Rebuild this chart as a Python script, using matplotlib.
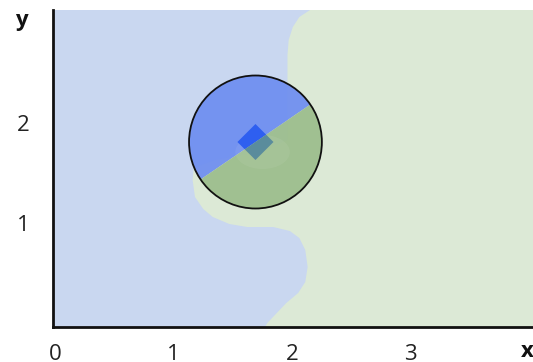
import numpy as np
import matplotlib.pyplot as plt
from matplotlib.patches import Ellipse, Polygon

# boundary of the green region (data units), from top edge down to the x axis
bound_x = [2.15, 2.06, 2.005, 1.97, 1.96, 1.96, 1.73, 1.35, 1.17, 1.16, 1.18, 1.25,
           1.33, 1.47, 1.62, 1.84, 1.98, 2.06, 2.11, 2.13, 2.11, 2.05, 1.95, 1.87, 1.79, 1.77]
bound_y = [3.13, 3.06, 2.96, 2.83, 2.68, 1.83, 1.71, 1.63, 1.55, 1.43, 1.26, 1.14,
           1.06, 0.99, 0.96, 0.96, 0.92, 0.85, 0.73, 0.56, 0.41, 0.30, 0.20, 0.10, 0.0, -0.04]

# circle and diamond
circ_center = (1.69, 1.81)
circ_w, circ_h = 1.12, 1.33
diam_half_x, diam_half_y = 0.152, 0.18
split_slope = 0.81

xticks = [0, 1, 2, 3]
yticks = [1, 2]
xlim = (-0.017, 4.03)
ylim = (-0.04, 3.13)

c_blue_bg = '#c9d7f0'
c_green_bg = '#dce9d6'
c_blue = '#6e8ef0'
c_green = '#9dbe8e'
c_dblue = '#2e5ff0'
c_teal = '#5a8c9c'

fig = plt.figure(figsize=(5.33, 3.62), dpi=100)
ax = fig.add_axes([53/533, (362-327)/362, 480/533, 317/362])
ax.set_xlim(*xlim)
ax.set_ylim(*ylim)

ax.set_facecolor(c_blue_bg)
gx = bound_x + [xlim[1], xlim[1]]
gy = bound_y + [ylim[0], ylim[1]]
ax.add_patch(Polygon(np.column_stack([gx, gy]), closed=True, facecolor=c_green_bg,
                     edgecolor='none', zorder=1))

cx, cy = circ_center
far = 5
upper = [(cx - far, cy - far*split_slope), (cx + far, cy + far*split_slope),
         (cx + far, cy + far), (cx - far, cy + far)]
lower = [(cx - far, cy - far*split_slope), (cx + far, cy + far*split_slope),
         (cx + far, cy - far*3), (cx - far, cy - far*3)]

circ_clip = Ellipse(circ_center, circ_w, circ_h, facecolor='none', edgecolor='none')
ax.add_patch(circ_clip)
p1 = ax.add_patch(Polygon(upper, facecolor=c_blue, edgecolor='none', alpha=0.93, zorder=2))
p2 = ax.add_patch(Polygon(lower, facecolor=c_green, edgecolor='none', alpha=0.95, zorder=2))
p1.set_clip_path(circ_clip)
p2.set_clip_path(circ_clip)

halo = ax.add_patch(Ellipse((1.75, 1.71), 0.46, 0.34, facecolor='white', edgecolor='none',
                            alpha=0.06, zorder=3))
halo.set_clip_path(circ_clip)

dm = [(cx, cy + diam_half_y), (cx + diam_half_x, cy), (cx, cy - diam_half_y), (cx - diam_half_x, cy)]
diam_clip = Polygon(dm, facecolor='none', edgecolor='none')
ax.add_patch(diam_clip)
d1 = ax.add_patch(Polygon(upper, facecolor=c_dblue, edgecolor='none', zorder=4))
d2 = ax.add_patch(Polygon(lower, facecolor=c_teal, edgecolor='none', zorder=4))
d1.set_clip_path(diam_clip)
d2.set_clip_path(diam_clip)

ax.add_patch(Ellipse(circ_center, circ_w, circ_h, facecolor='none', edgecolor='#111111',
                     linewidth=1.3, zorder=5))

for s in ['top', 'right']:
    ax.spines[s].set_visible(False)
for s in ['left', 'bottom']:
    ax.spines[s].set_linewidth(2.0)
    ax.spines[s].set_color('#111111')

ax.set_xticks(xticks)
ax.set_yticks(yticks)
ax.tick_params(length=0, labelsize=16, colors='#222222')
ax.tick_params(axis='x', pad=12)
ax.tick_params(axis='y', pad=17)
for lab in ax.get_xticklabels() + ax.get_yticklabels():
    lab.set_family('Open Sans')

fig.text(15/533, 1 - 10/362, 'y', fontsize=16, fontweight='bold', family='Open Sans',
         ha='left', va='top', color='#111111')
fig.text(521/533, 1 - 341/362, 'x', fontsize=16, fontweight='bold', family='Open Sans',
         ha='left', va='top', color='#111111')

fig.savefig('out.png', dpi=100)
